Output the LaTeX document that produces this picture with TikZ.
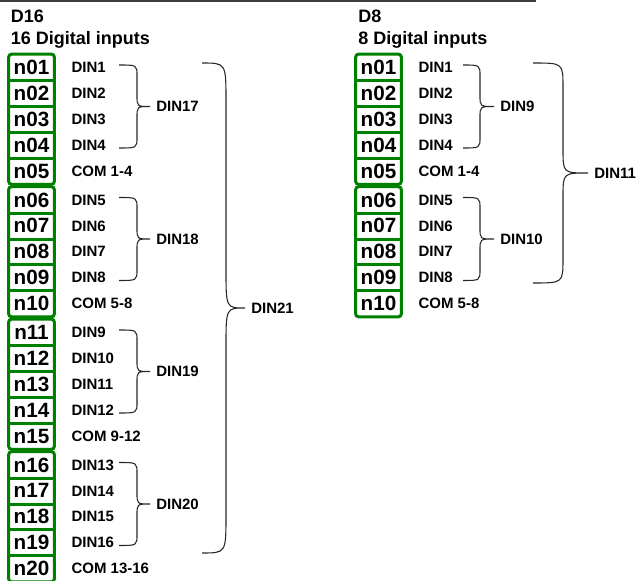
\documentclass[tikz,border=0pt]{standalone}
\usepackage{fontspec}
\setmainfont{Liberation Sans}
\usepackage{tikz}
\usetikzlibrary{positioning}
\definecolor{termgreen}{RGB}{0,128,0}
\definecolor{rulegray}{RGB}{60,60,60}

\begin{document}
\begin{tikzpicture}[x=0.75pt,y=-0.75pt,
  cell/.style={font=\fontsize{15.5}{16}\selectfont\bfseries,minimum width=33.75pt,minimum height=19.425pt,inner sep=0pt},
  frame/.style={draw=termgreen,line width=2.25pt},
  pinlabel/.style={font=\fontsize{11.25}{12}\selectfont\bfseries,inner sep=0pt},
  header/.style={font=\fontsize{13.5}{14}\selectfont\bfseries,inner sep=0pt,anchor=base west},
  bracket/.style={draw=black!85,line width=0.8pt}]
  \useasboundingbox (0,0) rectangle (640,581);
  \draw[rulegray,line width=1.5pt] (0,1) -- (536,1);
  % headers
  \node[header] (d16) at (10.5,23) {D16};
  \node[header] (d16sub) at (10.5,45) {16 Digital inputs};
  \node[header] (d8) at (358,23) {D8};
  \node[header] (d8sub) at (358,45) {8 Digital inputs};
  % terminal blocks
  \foreach \col/\cx/\last in {l/31.5/3,r/378.5/1}{
    \foreach \g in {0,...,\last}{
      \foreach \j in {1,...,5}{
        \pgfmathtruncatemacro\n{5*\g+\j}
        \edef\nn{\ifnum\n<10 0\fi\n}
        \node[cell] (\col\nn) at (\cx,{54.5+132.5*\g+(\j-0.5)*25.9}) {n\nn};
        \pgfmathtruncatemacro\da{4*\g+\j}
        \pgfmathtruncatemacro\ca{4*\g+1}
        \pgfmathtruncatemacro\cb{4*\g+4}
        \ifnum\j<5
          \node[pinlabel,right=12.75pt of \col\nn] (\col d\nn) {DIN\da};
          \draw[frame] (\col\nn.south west) -- (\col\nn.south east);
        \else
          \node[pinlabel,right=12.75pt of \col\nn] (\col d\nn) {COM \ca-\cb};
        \fi
      }
      \pgfmathtruncatemacro\fa{5*\g+1}
      \pgfmathtruncatemacro\fb{5*\g+5}
      \edef\na{\ifnum\fa<10 0\fi\fa}
      \edef\nb{\ifnum\fb<10 0\fi\fb}
      \draw[frame,rounded corners=2pt] (\col\na.north west) rectangle (\col\nb.south east);
    }
  }
  % braces: start x / spine x / tip x / top / bottom / radius / label
  \foreach \xa/\xm/\xt/\ya/\yb/\r/\lab in {
      119/137/150/65/148/11/DIN17, 119/137/150/197.5/280.5/11/DIN18,
      119/137/150/330/413/11/DIN19, 119/137/150/462.5/545.5/11/DIN20,
      202/226/245/63/553/38/DIN21,
      463/480/494/65/148/11/DIN9, 463/480/494/197.5/280.5/11/DIN10,
      533/563/588/63/283/24/DIN11}{
    \pgfmathsetmacro\ym{(\ya+\yb)/2}
    \draw[bracket] (\xa,\ya) .. controls (\xm,\ya) .. (\xm,{\ya+\r})
      -- (\xm,{\ym-\r}) .. controls (\xm,\ym) .. (\xt,\ym)
      .. controls (\xm,\ym) .. (\xm,{\ym+\r})
      -- (\xm,{\yb-\r}) .. controls (\xm,\yb) .. (\xa,\yb);
    \node[pinlabel,anchor=west] (\lab) at ({\xt+6},\ym) {\lab};
  }
\end{tikzpicture}
\end{document}
